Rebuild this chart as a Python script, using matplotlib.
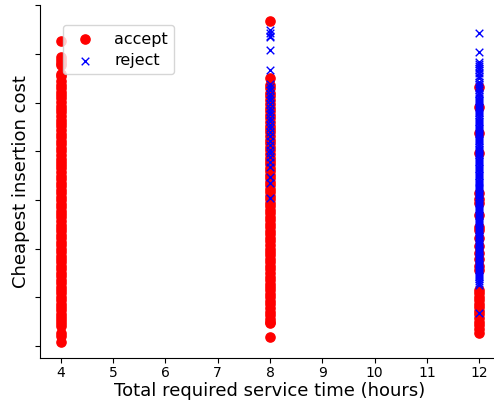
import matplotlib
matplotlib.use("Agg")
import matplotlib.pyplot as plt

# service time (hours) -> cheapest insertion cost for accepted / rejected requests
accept_4 = [125.3, 118.7, 117.5, 116.2, 115.4, 111.7, 110.8, 108.9, 107.3, 106.0,
            104.4, 103.1, 101.8, 100.2, 98.7, 97.5, 96.1, 94.3, 93.0, 91.6, 90.2,
            88.8, 87.1, 85.9, 84.3, 82.8, 81.4, 80.1, 78.6, 77.0, 75.7, 74.2, 72.9,
            71.3, 69.8, 68.5, 67.1, 65.6, 64.2, 62.7, 61.3, 60.0, 58.4, 57.1, 55.6,
            54.2, 52.9, 51.3, 49.8, 48.5, 47.1, 45.6, 44.3, 42.8, 41.4, 39.9, 38.6,
            37.1, 35.7, 34.3, 32.8, 31.5, 30.0, 28.6, 27.2, 25.8, 24.3, 22.9, 21.6,
            20.1, 18.8, 17.3, 15.9, 14.6, 13.2, 11.8, 10.5, 9.3, 8.1, 5.4, 3.9, 1.6]
accept_8 = [133.5, 110.1, 107.2, 105.8, 104.0, 102.5, 100.9, 99.6, 97.8, 96.4, 95.0,
            93.5, 92.1, 90.4, 89.0, 87.7, 86.1, 84.8, 83.2, 81.9, 80.5, 78.9, 77.4,
            76.1, 74.6, 73.2, 71.8, 70.3, 68.9, 67.4, 66.0, 64.5, 63.1, 61.7, 60.2,
            58.8, 57.3, 55.9, 54.5, 53.0, 51.6, 50.1, 48.7, 47.3, 45.8, 44.4, 42.9,
            41.5, 40.0, 38.6, 37.2, 35.7, 34.3, 32.8, 31.4, 30.0, 28.5, 27.1, 25.6,
            24.2, 22.8, 21.3, 19.9, 18.4, 17.0, 15.6, 14.1, 12.7, 11.2, 9.8, 9.4, 3.7]
accept_12 = [106.5, 98.2, 87.5, 79.3, 62.8, 60.4, 58.7, 53.8, 48.9, 47.5, 44.2, 41.0,
             38.1, 35.5, 33.0, 31.2, 23.0, 21.6, 20.1, 18.7, 17.2, 15.8, 14.3, 12.9,
             11.5, 10.0, 8.6, 7.1, 5.3]

reject_8 = [129.8, 128.6, 127.4, 126.9, 121.6, 113.4, 107.8, 106.5, 105.1, 103.7,
            102.2, 101.0, 99.2, 97.9, 96.6, 95.3, 93.8, 92.5, 90.9, 89.6, 87.9, 86.3,
            84.0, 82.5, 80.5, 79.2, 77.6, 75.4, 73.5, 69.4, 66.9, 60.8]
reject_12 = [128.5, 120.7, 116.6, 115.7, 115.0, 114.2, 113.5, 112.1, 111.0, 110.2,
             108.4, 107.5, 106.6, 105.8, 105.0, 104.1, 103.4, 102.5, 101.8, 101.1,
             100.5, 99.8, 99.1, 98.3, 97.6, 96.9, 96.2, 95.5, 94.8, 94.0, 93.3, 92.6,
             91.9, 91.2, 90.5, 89.7, 89.0, 88.3, 87.6, 86.9, 86.2, 85.4, 84.7, 84.0,
             83.3, 82.6, 81.9, 81.1, 80.4, 79.7, 79.0, 78.3, 77.6, 76.8, 76.1, 75.4,
             74.7, 74.0, 73.3, 72.5, 71.8, 71.1, 70.4, 69.7, 69.0, 68.2, 67.5, 66.8,
             66.1, 65.4, 64.7, 63.9, 63.2, 62.5, 61.8, 61.1, 60.4, 59.6, 58.9, 58.2,
             57.5, 56.8, 56.1, 55.3, 54.6, 53.9, 53.2, 52.5, 51.8, 51.0, 50.3, 49.6,
             48.9, 48.2, 47.5, 46.7, 46.0, 45.3, 44.6, 43.9, 43.2, 42.4, 41.7, 41.0,
             40.3, 39.6, 38.9, 38.1, 37.4, 36.7, 36.0, 35.3, 34.6, 33.8, 33.1, 32.4,
             31.7, 31.0, 30.3, 29.5, 28.8, 28.1, 27.4, 26.7, 25.9, 25.2, 13.6]

acc_x = [4] * len(accept_4) + [8] * len(accept_8) + [12] * len(accept_12)
acc_y = accept_4 + accept_8 + accept_12
rej_x = [8] * len(reject_8) + [12] * len(reject_12)
rej_y = reject_8 + reject_12

fig = plt.figure(figsize=(4.94, 4.01), dpi=100)
ax = fig.add_axes([40 / 494, 43 / 401, 460 / 494, 353 / 401])

ax.scatter(acc_x, acc_y, c='red', marker='o', s=44, label='accept')
ax.scatter(rej_x, rej_y, c='blue', marker='x', s=30, linewidths=1, label='reject')

ax.set_xticks(range(4, 13))
ax.set_yticks(range(0, 141, 20))
ax.tick_params(labelleft=False)
ax.tick_params(axis='x', pad=2.5)
ax.spines['top'].set_visible(False)
ax.spines['right'].set_visible(False)

ax.set_xlabel('Total required service time (hours)', fontsize=13, labelpad=1)
ax.set_ylabel('Cheapest insertion cost', fontsize=13)
ax.legend(loc='upper left', bbox_to_anchor=(0.05, 0.943), borderaxespad=0,
          fontsize=11.5, labelspacing=0.4)

fig.savefig('out.png', dpi=100)
